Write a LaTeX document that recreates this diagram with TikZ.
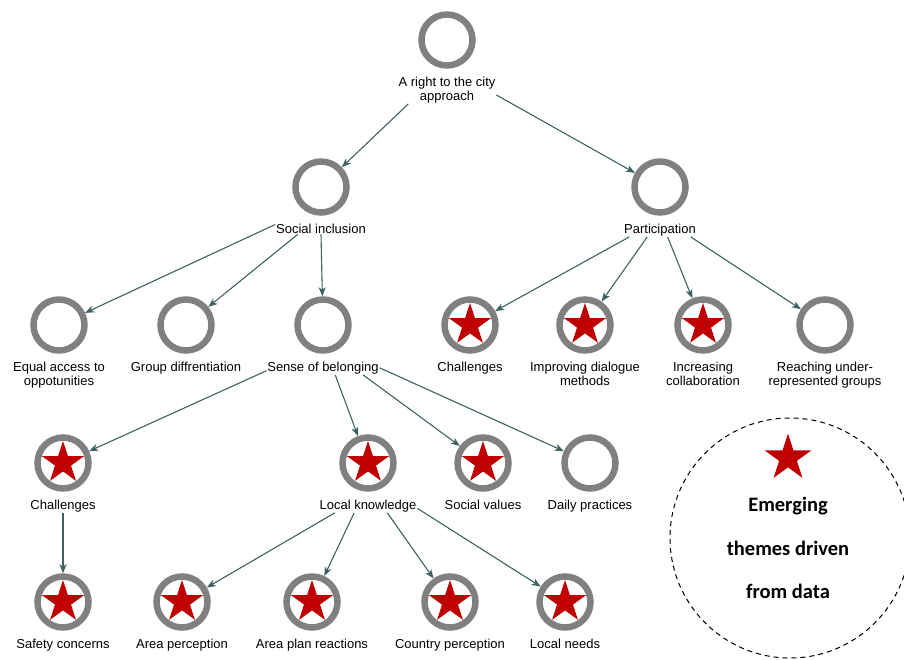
\documentclass[tikz,border=0pt]{standalone}
\usepackage{fontspec}
\setmainfont{Liberation Sans}
\newfontfamily\legendfont{Carlito}
\usetikzlibrary{positioning,shapes.geometric,arrows.meta}
\definecolor{ringgray}{HTML}{808080}
\definecolor{edgeteal}{HTML}{3E6262}
\definecolor{starred}{HTML}{C00000}
\tikzset{
  ring/.style={circle, draw=ringgray, line width=6.5pt, fill=white, minimum size=51pt, inner sep=0pt, outer sep=3.25pt},
  theme/.style={ring, path picture={\node [star, star points=5, star point ratio=2.618, fill=starred, minimum size=44pt, inner sep=0pt] at (path picture bounding box.center) {};}},
  lbl/.style={font=\fontsize{13}{14}\selectfont, align=center, inner sep=1pt, outer sep=0pt, fill=white},
  edge/.style={draw=edgeteal, line width=1.1pt, -{Stealth[length=9pt, width=7pt, inset=2.5pt]}},
  legtext/.style={font=\legendfont\bfseries\fontsize{20.5}{22}\selectfont, inner sep=0pt}
}
\begin{document}
\begin{tikzpicture}[x=1pt, y=-1pt]
  \useasboundingbox (0,0) rectangle (904,660);
  % top of the tree
  \node (root) [ring] at (447,40) {};
  \node (rootl) [lbl, below=7pt of root] {A right to the city\\approach};
  \node (si) [ring] at (321,187) {};
  \node (sil) [lbl, below=7pt of si] {Social inclusion};
  \node (part) [ring] at (660,187) {};
  \node (partl) [lbl, below=7pt of part] {Participation};
  % third row
  \node (ea) [ring] at (59,325) {};
  \node (eal) [lbl, below=7pt of ea] {Equal access to\\oppotunities};
  \node (gd) [ring] at (186,325) {};
  \node (gdl) [lbl, below=7pt of gd] {Group diffrentiation};
  \node (sb) [ring] at (323,325) {};
  \node (sbl) [lbl, below=7pt of sb] {Sense of belonging};
  \node (pch) [theme] at (470,325) {};
  \node (pchl) [lbl, below=7pt of pch] {Challenges};
  \node (imp) [theme] at (585,325) {};
  \node (impl) [lbl, below=7pt of imp] {Improving dialogue\\methods};
  \node (inc) [theme] at (703,325) {};
  \node (incl) [lbl, below=7pt of inc] {Increasing\\collaboration};
  \node (rea) [ring] at (825,325) {};
  \node (real) [lbl, below=7pt of rea] {Reaching under-\\represented groups};
  % fourth row
  \node (sch) [theme] at (63,463) {};
  \node (schl) [lbl, below=7pt of sch] {Challenges};
  \node (lk) [theme] at (368,463) {};
  \node (lkl) [lbl, below=7pt of lk] {Local knowledge};
  \node (sv) [theme] at (483,463) {};
  \node (svl) [lbl, below=7pt of sv] {Social values};
  \node (dp) [ring] at (590,463) {};
  \node (dpl) [lbl, below=7pt of dp] {Daily practices};
  % bottom row
  \node (saf) [theme] at (63,602) {};
  \node (safl) [lbl, below=7pt of saf] {Safety concerns};
  \node (ap) [theme] at (182,602) {};
  \node (apl) [lbl, below=7pt of ap] {Area perception};
  \node (apr) [theme] at (312,602) {};
  \node (aprl) [lbl, below=7pt of apr] {Area plan reactions};
  \node (cp) [theme] at (450,602) {};
  \node (cpl) [lbl, below=7pt of cp] {Country perception};
  \node (ln) [theme] at (565,602) {};
  \node (lnl) [lbl, below=7pt of ln] {Local needs};
  % connectors
  \draw [edge] (rootl.200) -- (si);
  \draw [edge] (rootl.354) -- (part);
  \draw [edge] (sil.175) -- (ea);
  \draw [edge] (sil.194) -- (gd);
  \draw [edge] (sil.south) -- (sb);
  \draw [edge] (partl.193) -- (pch);
  \draw [edge] (partl.209) -- (imp);
  \draw [edge] (partl.317) -- (inc);
  \draw [edge] (partl.347) -- (rea);
  \draw [edge] (sbl.183) -- (sch);
  \draw [edge] (sbl.330) -- (lk);
  \draw [edge] (sbl.350) -- (sv);
  \draw [edge] (sbl.east) -- (dp);
  \draw [edge] (schl.south) -- (saf);
  \draw [edge] (lkl.192) -- (ap);
  \draw [edge] (lkl.207) -- (apr);
  \draw [edge] (lkl.340) -- (cp);
  \draw [edge] (lkl.357) -- (ln);
  % legend
  \node (legend) [circle, draw, dashed, dash pattern=on 5pt off 4pt, line width=1pt, minimum size=240pt] at (790,538) {};
  \node (legstar) [star, star points=5, star point ratio=2.618, fill=starred, minimum size=49pt, inner sep=0pt] at (788,458) {};
  \node (leg1) [legtext] at (788,506) {Emerging};
  \node (leg2) [legtext] at (788,548) {themes driven};
  \node (leg3) [legtext] at (788,591) {from data};
\end{tikzpicture}
\end{document}
